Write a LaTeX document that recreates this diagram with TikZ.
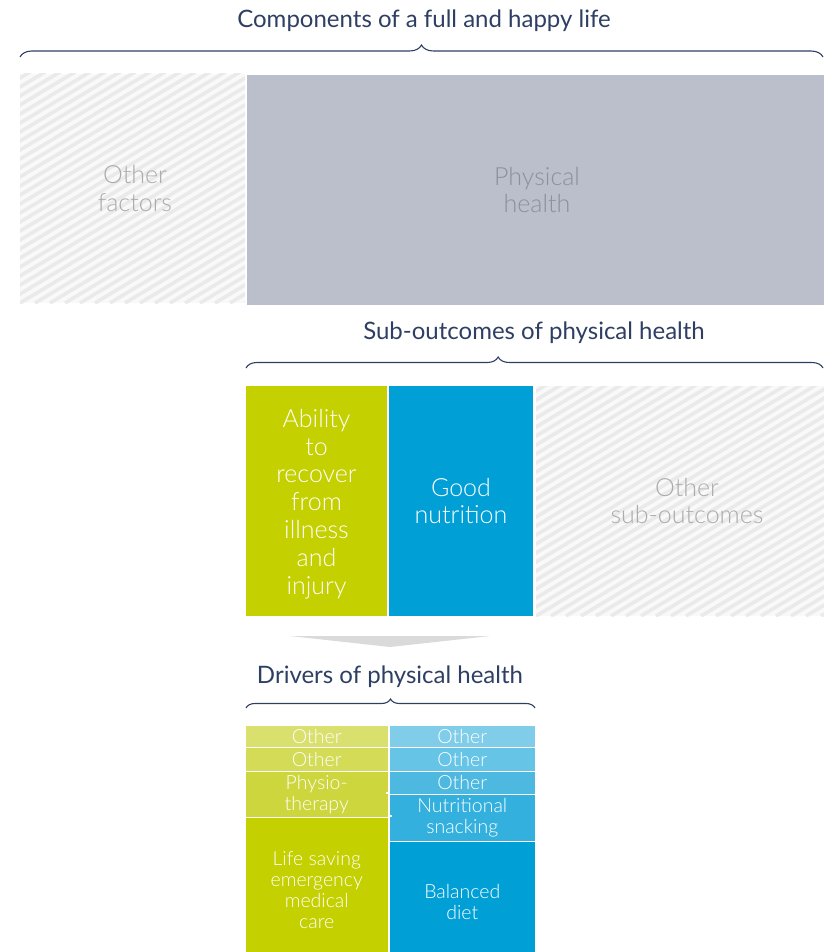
\documentclass[tikz,border=0pt]{standalone}
\usepackage{fontspec}
\setmainfont{Lato}
\newfontfamily\lightfont{Lato Light}
\usetikzlibrary{decorations.pathreplacing}
\definecolor{navy}{HTML}{2E3F63}
\definecolor{phys}{HTML}{BABFCB}
\definecolor{physt}{HTML}{8B909A}
\definecolor{hatcht}{HTML}{ABABAB}
\definecolor{hatchbg}{HTML}{F9F9F9}
\definecolor{hatchln}{HTML}{EAEAEA}
\definecolor{gA}{HTML}{C4D000}
\definecolor{gB}{HTML}{CDD63C}
\definecolor{gC}{HTML}{D3DB57}
\definecolor{gD}{HTML}{D9E06E}
\definecolor{bA}{HTML}{009FD6}
\definecolor{bB}{HTML}{33B0DD}
\definecolor{bC}{HTML}{4DB9E1}
\definecolor{bD}{HTML}{66C4E6}
\definecolor{bE}{HTML}{80CDEA}
\definecolor{tri}{HTML}{DADADA}
\begin{document}
\begin{tikzpicture}[x=1pt,y=-1pt,
  title/.style={text=navy, font=\fontsize{24}{28}\selectfont, inner sep=0pt},
  cell/.style={inner sep=0pt, align=center, text=white},
  bigtxt/.style={font=\lightfont\fontsize{25}{27.8}\selectfont},
  smalltxt/.style={font=\lightfont\fontsize{19.5}{21}\selectfont},
  hatchbox/.style={cell, fill=hatchbg, text=hatcht, bigtxt,
    path picture={
      \foreach \i in {0,...,75}{
        \draw[hatchln, line width=3.6pt]
          ([xshift=\i*15pt-450pt]path picture bounding box.south west) -- ++(700pt,420pt);
      }}},
  brc/.style={draw=navy, line width=1.1pt, decorate,
    decoration={brace, amplitude=#1}},
]
\useasboundingbox (0,0) rectangle (823,952);

% ---- top level ----
\node[title] (t1) at (424,21) {Components of a full and happy life};
\coordinate (b1a) at (20,57);
\coordinate (b1b) at (823,57);
\draw[brc=12pt] (b1a) -- (b1b);

\node[hatchbox, minimum width=225pt, minimum height=229pt] (other) at (132.5,188.5) {};
\node[cell, bigtxt, text=hatcht] (othertxt) at ([xshift=2.5pt]other.center) {Other\\factors};
\node[cell, fill=phys, text=physt, bigtxt, minimum width=580pt, minimum height=230pt] (phys) at (537,190) {Physical\\health};

% ---- sub-outcomes ----
\node[title] (t2) at (534,333) {Sub-outcomes of physical health};
\coordinate (b2a) at (246,368);
\coordinate (b2b) at (823,368);
\draw[brc=11pt, decoration={aspect=0.437}] (b2a) -- (b2b);

\node[cell, fill=gA, minimum width=141pt, minimum height=230pt] (ability) at (316.5,501) {};
\node[cell, bigtxt] (abilitytxt) at ([yshift=-3pt]ability.center)
  {Ability\\to\\recover\\from\\illness\\and\\injury};
\node[cell, fill=bA, bigtxt, minimum width=144pt, minimum height=230pt] (nutr) at (461,501)
  {Good\\nutrition};
\node[hatchbox, minimum width=302pt, minimum height=230pt] (othsub) at (687,501)
  {Other\\sub-outcomes};

% ---- arrow ----
\fill[tri] (290,636) -- (490,636) -- (390,647) -- cycle;

% ---- drivers ----
\node[title] (t3) at (390,677) {Drivers of physical health};
\coordinate (b3a) at (246,708);
\coordinate (b3b) at (535,708);
\draw[brc=9pt] (b3a) -- (b3b);

\begin{scope}[every node/.style={cell, smalltxt}]
\node[fill=gD, minimum width=141.5pt, minimum height=20.5pt] (l1) at (316.75,736.25) {Other};
\node[fill=gC, minimum width=141.5pt, minimum height=22.5pt] (l2) at (316.75,759.25) {Other};
\node[fill=gB, minimum width=141.5pt, minimum height=44.5pt] (l3) at (316.75,794.25) {Physio-\\therapy};
\node[fill=gA, minimum width=141.5pt, minimum height=144pt] (l4) at (316.75,890) {Life saving\\emergency\\medical\\care};

\node[fill=bE, minimum width=145.5pt, minimum height=20.5pt] (r1) at (462.25,736.25) {Other};
\node[fill=bD, minimum width=145.5pt, minimum height=22.5pt] (r2) at (462.25,759.25) {Other};
\node[fill=bC, minimum width=145.5pt, minimum height=21.5pt] (r3) at (462.25,782.75) {Other};
\node[fill=bB, minimum width=145.5pt, minimum height=45.5pt] (r4) at (462.25,817.75) {Nutritional\\snacking};
\node[fill=bA, minimum width=145.5pt, minimum height=120pt] (r5) at (462.25,902) {Balanced\\diet};
\end{scope}

% small white ticks where row borders cross the column gap
\draw[white, line width=1.2pt] ([yshift=0.75pt]l3.south east) -- ++(4,0);
\draw[white, line width=1.2pt] ([yshift=0.75pt]r3.south west) -- ++(-3,0);
\end{tikzpicture}
\end{document}
